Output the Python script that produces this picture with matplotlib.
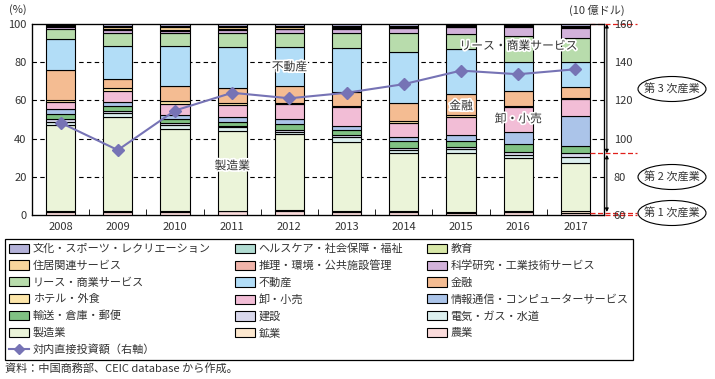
import matplotlib.pyplot as plt
import matplotlib.patheffects as pe
import numpy as np
from matplotlib.lines import Line2D
from matplotlib.patches import Ellipse, Rectangle

plt.rcParams['font.family'] = ['Noto Sans CJK JP', 'DejaVu Sans']
plt.rcParams['font.size'] = 8

years = ['2008', '2009', '2010', '2011', '2012', '2013', '2014', '2015', '2016', '2017']

# shares by industry (%), bottom of the stack first
agriculture = [1.4, 1.4, 1.7, 1.9, 1.9, 1.7, 1.4, 1.2, 1.4, 1.2]
mining = [0.5, 0.5, 0.6, 0.3, 0.5, 0.6, 0.7, 0.5, 0.6, 1.0]
manufacturing = [45.1, 49.6, 42.6, 41.6, 40.0, 36.1, 30.5, 30.9, 27.7, 25.2]
utilities = [1.9, 2.1, 2.2, 2.1, 0.9, 2.3, 1.4, 1.8, 1.7, 2.8]
construction = [1.2, 1.0, 0.9, 0.7, 1.2, 1.0, 1.3, 1.4, 1.8, 2.1]
transport = [2.6, 2.5, 2.3, 2.3, 3.0, 2.8, 3.6, 3.1, 4.0, 4.0]
ict = [2.6, 2.2, 2.2, 2.2, 2.8, 2.1, 2.1, 3.0, 6.4, 15.7]
retail = [4.0, 5.8, 5.6, 6.5, 7.8, 9.8, 7.3, 9.6, 12.8, 8.7]
hotel = [0.9, 1.2, 1.4, 0.9, 0.7, 0.7, 0.7, 0.7, 0.7, 0.6]
finance = [15.7, 4.7, 8.2, 8.2, 8.9, 7.1, 9.8, 11.2, 8.0, 5.9]
real_estate = [16.2, 17.7, 21.0, 21.4, 20.4, 23.1, 26.7, 23.3, 15.2, 13.1]
leasing = [5.1, 6.8, 6.4, 7.0, 7.0, 8.2, 10.0, 8.1, 13.4, 12.5]
research = [1.4, 1.2, 1.4, 1.8, 2.1, 1.7, 2.2, 3.4, 4.9, 4.9]
environment = [0.3, 0.6, 0.6, 0.7, 0.4, 0.5, 0.4, 0.3, 0.3, 0.6]
housing = [0.3, 1.3, 1.3, 1.0, 0.8, 0.6, 0.4, 0.3, 0.2, 0.3]
education = [0.1, 0.2, 0.3, 0.2, 0.2, 0.3, 0.3, 0.2, 0.1, 0.2]
health = [0.2, 0.4, 0.5, 0.4, 0.5, 0.5, 0.4, 0.3, 0.3, 0.4]
culture = [0.5, 0.8, 0.8, 0.8, 0.9, 0.9, 0.8, 0.7, 0.5, 0.8]

# inward FDI (right axis, 10億ドル)
fdi = [108.3, 94.0, 114.7, 124.0, 121.1, 124.0, 128.5, 135.6, 133.7, 136.3]

series = [
    ('農業', agriculture, '#fbdcdc'),
    ('鉱業', mining, '#fde8cf'),
    ('製造業', manufacturing, '#ebf4d9'),
    ('電気・ガス・水道', utilities, '#dcefee'),
    ('建設', construction, '#d9d8ec'),
    ('輸送・倉庫・郵便', transport, '#80c183'),
    ('情報通信・コンピューターサービス', ict, '#abc4e9'),
    ('卸・小売', retail, '#f2bdd6'),
    ('ホテル・外食', hotel, '#fde6aa'),
    ('金融', finance, '#f4bc92'),
    ('不動産', real_estate, '#b2ddf7'),
    ('リース・商業サービス', leasing, '#b8dcac'),
    ('科学研究・工業技術サービス', research, '#d2b2da'),
    ('推理・環境・公共施設管理', environment, '#f0b4aa'),
    ('住居関連サービス', housing, '#f8d59c'),
    ('教育', education, '#d8e8a8'),
    ('ヘルスケア・社会保障・福祉', health, '#b1dcd2'),
    ('文化・スポーツ・レクリエーション', culture, '#b3b1d8'),
]

line_color = '#7673b5'
text_color = '#333333'

fig = plt.figure(figsize=(7.15, 3.79), dpi=100)
ax = fig.add_axes([32 / 715, 1 - 215 / 379, 572 / 715, 191 / 379])

x = np.arange(len(years))
width = 0.51
bottom = np.zeros(len(years))
handles = {}
for name, vals, color in series:
    ax.bar(x, vals, width, bottom=bottom, color=color, edgecolor='black',
           linewidth=0.8, zorder=3)
    bottom += np.array(vals)
    handles[name] = Rectangle((0, 0), 1, 1, facecolor=color, edgecolor='black', linewidth=0.8)

ax.set_xlim(-0.5, 9.5)
ax.set_ylim(0, 100)
ax.set_yticks([0, 20, 40, 60, 80, 100])
ax.set_xticks(x)
ax.set_xticklabels(years)
ax.set_xticks(np.arange(0.5, 9.5, 1), minor=True)
ax.tick_params(axis='x', which='major', length=0, pad=5, colors=text_color)
ax.tick_params(axis='x', which='minor', length=4, direction='in')
ax.tick_params(axis='y', length=0, pad=4, colors=text_color)
for y in [20, 40, 60, 80]:
    ax.axhline(y, color='black', linewidth=0.8, linestyle=(0, (4, 3)), zorder=1)
for s in ax.spines.values():
    s.set_linewidth(0.9)

ax2 = ax.twinx()
ax2.set_ylim(60, 160)
ax2.set_yticks([60, 80, 100, 120, 140, 160])
ax2.tick_params(axis='y', length=0, pad=7, colors=text_color)
ax2.plot(x, fdi, color=line_color, linewidth=1.5, marker='D', markersize=6, zorder=5)

# sector boundaries for 2017
cum17 = np.cumsum([vals[-1] for _, vals, _ in series])
primary_top = cum17[0]
secondary_top = cum17[4]
xr0 = 9 + width / 2
xr1 = 10.08
for y in [0, primary_top, secondary_top, 100]:
    ax.plot([xr0, xr1], [y, y], color='#e0201b', linewidth=0.9,
            linestyle=(0, (4, 2)), clip_on=False, zorder=6)
arrow = dict(arrowstyle='<|-|>', color='black', lw=0.8, mutation_scale=5,
             shrinkA=0, shrinkB=0)
ax.annotate('', xy=(9.55, 100), xytext=(9.55, secondary_top), arrowprops=arrow,
            annotation_clip=False)
ax.annotate('', xy=(9.55, secondary_top - 0.8), xytext=(9.55, primary_top + 0.4),
            arrowprops=arrow, annotation_clip=False)

for label, cy in [('第 3 次産業', 89), ('第 2 次産業', 177), ('第 1 次産業', 213)]:
    cx = 672
    fig.patches.append(Ellipse((cx / 715, 1 - cy / 379), 68 / 715, 25 / 379,
                               transform=fig.transFigure, fill=False,
                               edgecolor='black', linewidth=0.8))
    fig.text(cx / 715, 1 - cy / 379, label, ha='center', va='center',
             fontsize=8, color=text_color)

halo = [pe.withStroke(linewidth=2.5, foreground='white')]
for label, lx, ly in [('不動産', 4.0, 77.5), ('製造業', 3.0, 25.7),
                      ('リース・商業サービス', 8.0, 88.5), ('金融', 7.0, 57.1),
                      ('卸・小売', 8.0, 50.3)]:
    ax2.text(lx, ly + 60, label, ha='center', va='center', fontsize=8.5,
             color=text_color, path_effects=halo, zorder=7)

fig.text(18 / 715, 1 - 10 / 379, '(%)', ha='center', va='center', color=text_color)
fig.text(597 / 715, 1 - 10 / 379, '(10 億ドル)', ha='center', va='center', color=text_color)

# legend, filled row by row like the original
legend_rows = [
    ['文化・スポーツ・レクリエーション', 'ヘルスケア・社会保障・福祉', '教育'],
    ['住居関連サービス', '推理・環境・公共施設管理', '科学研究・工業技術サービス'],
    ['リース・商業サービス', '不動産', '金融'],
    ['ホテル・外食', '卸・小売', '情報通信・コンピューターサービス'],
    ['輸送・倉庫・郵便', '建設', '電気・ガス・水道'],
    ['製造業', '鉱業', '農業'],
]
line_handle = Line2D([], [], color=line_color, linewidth=1.5, marker='D', markersize=5)
leg_handles, leg_labels = [], []
for col in range(3):
    for row in legend_rows:
        leg_handles.append(handles[row[col]])
        leg_labels.append(row[col])
    if col == 0:
        leg_handles.append(line_handle)
        leg_labels.append('対内直接投資額（右軸）')

leg = fig.legend(leg_handles, leg_labels, ncol=3, loc='upper left',
                 bbox_to_anchor=(5 / 715, 1 - 358 / 379, 628 / 715, 119 / 379),
                 mode='expand', frameon=True, fancybox=False, edgecolor='black',
                 framealpha=1, handlelength=1.8, handleheight=0.9,
                 handletextpad=0.3, labelspacing=0.57, borderpad=0.4,
                 borderaxespad=0, fontsize=8)
leg.get_frame().set_linewidth(0.9)
for t in leg.get_texts():
    t.set_color(text_color)

fig.text(5 / 715, 1 - 368 / 379, '資料：中国商務部、CEIC database から作成。',
         ha='left', va='center', fontsize=8, color=text_color)

fig.savefig('out.png', dpi=100)
